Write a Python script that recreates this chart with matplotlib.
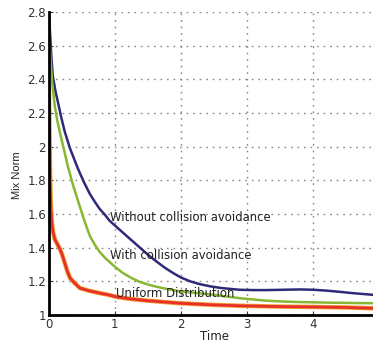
import matplotlib
matplotlib.use('Agg')
import matplotlib.pyplot as plt

plt.rcParams['font.family'] = ['DejaVu Sans']

# curves
t_without = [0, 0.02, 0.04, 0.06, 0.1, 0.14, 0.19, 0.24, 0.32, 0.44, 0.53, 0.62, 0.70,
             0.77, 0.85, 0.92, 1.02, 1.12, 1.25, 1.38, 1.51, 1.64, 1.76, 1.88, 2.0,
             2.14, 2.29, 2.45, 2.6, 2.75, 2.89, 3.1, 3.3, 3.55, 3.8, 4.0, 4.2, 4.4,
             4.6, 4.91]
y_without = [2.8, 2.66, 2.52, 2.42, 2.33, 2.26, 2.17, 2.09, 1.99, 1.87, 1.79, 1.72, 1.67,
             1.63, 1.595, 1.56, 1.525, 1.49, 1.445, 1.40, 1.355, 1.315, 1.28, 1.25, 1.223,
             1.20, 1.183, 1.17, 1.161, 1.155, 1.15, 1.148, 1.148, 1.15, 1.152, 1.15, 1.145,
             1.138, 1.13, 1.12]

t_with = [0, 0.02, 0.05, 0.09, 0.13, 0.17, 0.23, 0.29, 0.36, 0.44, 0.53, 0.62, 0.70,
          0.77, 0.85, 0.92, 1.02, 1.12, 1.25, 1.38, 1.51, 1.64, 1.82, 2.0, 2.2, 2.4,
          2.65, 2.89, 3.1, 3.3, 3.55, 3.8, 4.3, 4.91]
y_with = [2.72, 2.55, 2.38, 2.24, 2.15, 2.08, 1.98, 1.88, 1.78, 1.68, 1.57, 1.47, 1.415,
          1.375, 1.34, 1.315, 1.28, 1.25, 1.22, 1.196, 1.18, 1.167, 1.152, 1.14, 1.132,
          1.125, 1.112, 1.10, 1.092, 1.085, 1.08, 1.077, 1.073, 1.07]

t_uniform = [0, 0.005, 0.01, 0.015, 0.02, 0.03, 0.045, 0.065, 0.09, 0.13, 0.17, 0.2,
             0.24, 0.28, 0.32, 0.39, 0.47, 0.6, 0.77, 0.9, 1.03, 1.25, 1.5, 1.98, 2.5,
             2.89, 3.5, 4.0, 4.5, 4.91]
y_uniform = [2.35, 2.25, 2.1, 1.95, 1.8, 1.65, 1.55, 1.49, 1.45, 1.42, 1.39, 1.36,
             1.31, 1.26, 1.22, 1.19, 1.16, 1.145, 1.13, 1.12, 1.107, 1.095, 1.085, 1.07,
             1.06, 1.055, 1.05, 1.048, 1.045, 1.04]

labels = ['Without collision avoidance', 'With collision avoidance', 'Uniform Distribution']
xticks = [0, 1, 2, 3, 4]
yticks = [1, 1.2, 1.4, 1.6, 1.8, 2, 2.2, 2.4, 2.6, 2.8]
ytick_labels = ['1', '1.2', '1.4', '1.6', '1.8', '2', '2.2', '2.4', '2.6', '2.8']

fig = plt.figure(figsize=(3.73, 3.43), dpi=100)
ax = fig.add_axes([0.131, 0.0816, 0.869, 0.8834])

ax.plot(t_without, y_without, color='#2f2a78', lw=1.8)
ax.plot(t_with, y_with, color='#86b832', lw=1.8)
ax.plot(t_uniform, y_uniform, color='#f0a030', lw=3.2)
ax.plot(t_uniform, y_uniform, color='#e8302a', lw=2.0)

ax.text(0.924, 1.577, labels[0], fontsize=8.4, va='center', color='#222222')
ax.text(0.924, 1.351, labels[1], fontsize=8.4, va='center', color='#222222')
ax.text(1.02, 1.125, labels[2], fontsize=8.4, va='center', color='#222222')

ax.set_xlim(0, 4.91)
ax.set_ylim(1, 2.8)
ax.set_xticks(xticks)
ax.set_yticks(yticks)
ax.set_xticklabels([str(v) for v in xticks])
ax.set_yticklabels(ytick_labels)
ax.tick_params(labelsize=8.5, length=3, direction='in', colors='#333333', pad=2)
ax.grid(True, ls=(0, (1.2, 3.5)), color='#888888', lw=1.0)

for s in ['top', 'right']:
    ax.spines[s].set_visible(False)
for s in ['left', 'bottom']:
    ax.spines[s].set_linewidth(2)
    ax.spines[s].set_color('black')

fig.text(0.046, 0.49, 'Mix Norm', rotation=90, fontsize=8, ha='center', va='center',
         color='#222222', family='Liberation Sans')
fig.text(0.574, 0.0175, 'Time', fontsize=8.5, ha='center', va='center', color='#222222')

fig.savefig('out.png', dpi=100)
